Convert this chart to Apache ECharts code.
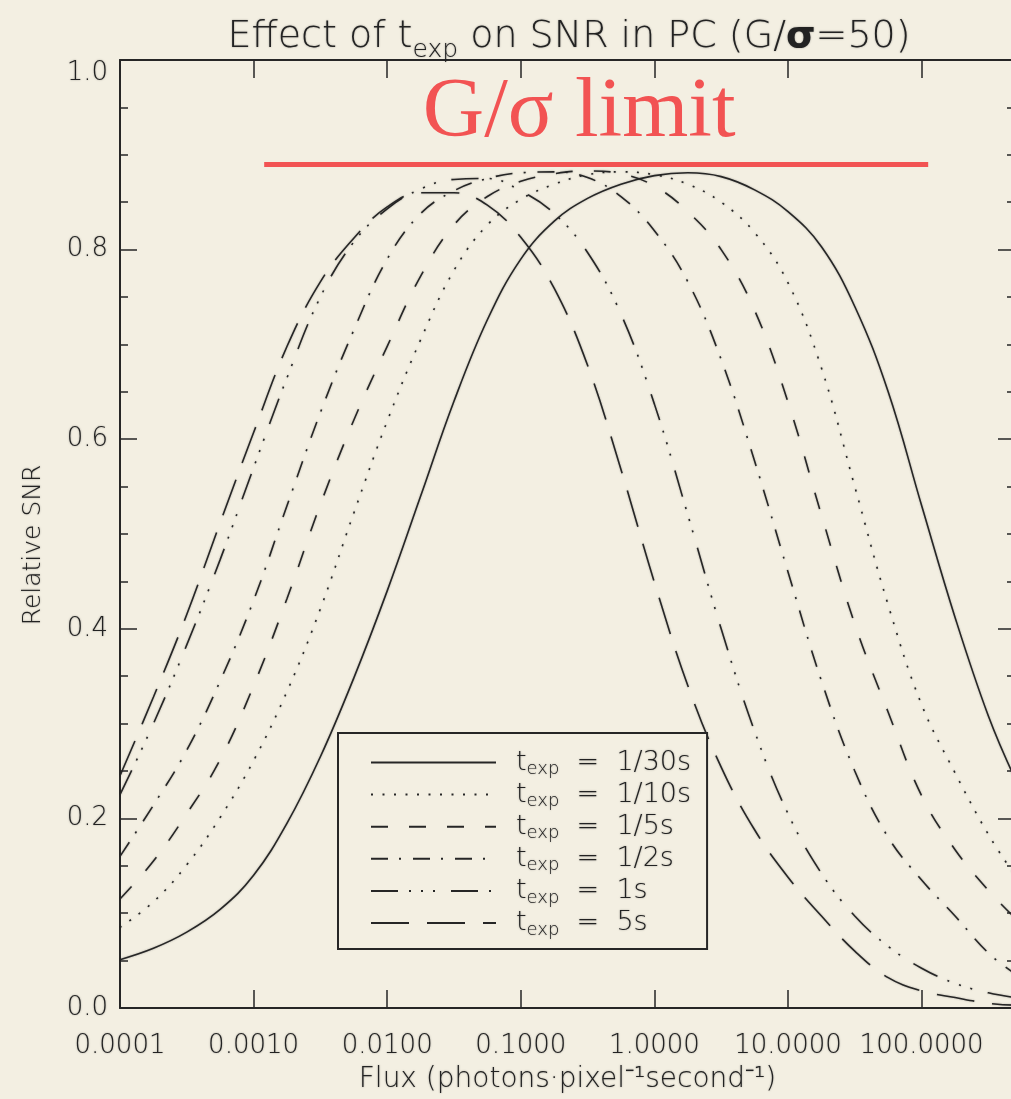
<!DOCTYPE html>
<html>
<head>
<meta charset="utf-8">
<title>Effect of t_exp on SNR in PC</title>
<script src="https://cdn.jsdelivr.net/npm/echarts@6/dist/echarts.min.js"></script>
<style>
  html, body { margin: 0; padding: 0; background: #f3efe2; overflow: hidden; }
  /* the plot frame runs a few pixels past the right edge of the page */
  #chart { width: 1020px; height: 1099px; }
</style>
</head>
<body>
<div id="chart"></div>
<script>
// Exposure times, one curve each
const expTimes = ['1/30s', '1/10s', '1/5s', '1/2s', '1s', '5s'];

// Flux samples (photons / pixel / second), quarter-decade steps up to the axis end
const flux = [1.00e-4, 1.78e-4, 3.16e-4, 5.62e-4, 1.00e-3, 1.78e-3, 3.16e-3, 5.62e-3, 0.0100, 0.0178, 0.0316, 0.0562,
              0.100, 0.178, 0.316, 0.562, 1.00, 1.78, 3.16, 5.62, 10.0, 17.8, 31.6, 56.2, 100, 178, 316, 500];

// Relative SNR at those fluxes, one list per exposure time
const snr30 = [0.051, 0.063, 0.080, 0.104, 0.140, 0.195, 0.265, 0.348, 0.440, 0.540, 0.640, 0.726, 0.790, 0.830,
               0.854, 0.869, 0.878, 0.881, 0.877, 0.863, 0.840, 0.803, 0.740, 0.650, 0.530, 0.412, 0.308, 0.242];
const snr10 = [0.085, 0.112, 0.151, 0.201, 0.261, 0.334, 0.421, 0.522, 0.619, 0.705, 0.778, 0.826, 0.853, 0.869,
               0.879, 0.882, 0.879, 0.869, 0.850, 0.818, 0.765, 0.675, 0.550, 0.425, 0.320, 0.248, 0.183, 0.140];
const snr5  = [0.115, 0.155, 0.205, 0.262, 0.340, 0.432, 0.531, 0.620, 0.698, 0.772, 0.826, 0.856, 0.872, 0.880,
               0.883, 0.880, 0.867, 0.840, 0.800, 0.736, 0.639, 0.520, 0.405, 0.312, 0.224, 0.167, 0.124, 0.095];
const snr2  = [0.160, 0.214, 0.272, 0.345, 0.430, 0.530, 0.628, 0.715, 0.790, 0.838, 0.862, 0.875, 0.881, 0.882,
               0.876, 0.856, 0.820, 0.766, 0.684, 0.577, 0.460, 0.345, 0.250, 0.180, 0.135, 0.097, 0.058, 0.036];
const snr1  = [0.225, 0.300, 0.383, 0.473, 0.570, 0.665, 0.750, 0.808, 0.843, 0.864, 0.874, 0.875, 0.862, 0.838,
               0.797, 0.732, 0.637, 0.520, 0.400, 0.292, 0.205, 0.142, 0.097, 0.065, 0.042, 0.026, 0.016, 0.011];
const snr5s = [0.245, 0.328, 0.415, 0.512, 0.607, 0.698, 0.766, 0.812, 0.845, 0.860, 0.860, 0.847, 0.813, 0.759,
               0.678, 0.568, 0.449, 0.340, 0.254, 0.188, 0.138, 0.097, 0.060, 0.032, 0.018, 0.011, 0.005, 0.003];

// Axis ranges and tick labels
const fluxMin = 1e-4, fluxMax = 500;
const xTickLabels = ['0.0001', '0.0010', '0.0100', '0.1000', '1.0000', '10.0000', '100.0000'];

// G/sigma ceiling and the flux span it is drawn across
const limitSnr = 0.89;
const limitFluxFrom = 0.0012, limitFluxTo = 112;

const snrSets = [snr30, snr10, snr5, snr2, snr1, snr5s];
// IDL style line patterns: solid, dotted, dashed, dash-dot, dash-dot-dot-dot, long dashes
const dashes = ['solid', [2, 9.5], [17, 21], [17, 11, 2, 12], [27, 11, 2, 10, 2, 10, 2, 16], [38, 18]];

const bg = '#f3efe2';
const ink = '#262626';
const textInk = '#222222';
const red = '#f25353';
const sans = 'DejaVu Sans';
// soft halo that the printed figure has around its strokes and letters
const halo = { textShadowColor: 'rgba(0,0,0,0.35)', textShadowBlur: 2 };

const series = expTimes.map((name, i) => ({
  name: name,
  type: 'line',
  xAxisIndex: 0,
  yAxisIndex: 0,
  data: flux.map((f, j) => [f, snrSets[i][j]]),
  showSymbol: false,
  symbol: 'none',
  smooth: 0.4,
  clip: true,
  lineStyle: { color: ink, width: 1.6, type: dashes[i], cap: 'butt', shadowColor: 'rgba(0,0,0,0.3)', shadowBlur: 2 },
  emphasis: { disabled: true },
  z: 3
}));

series[0].markLine = {
  silent: true,
  symbol: ['none', 'none'],
  animation: false,
  lineStyle: { color: red, width: 5, type: 'solid', opacity: 1 },
  label: {
    show: true,
    position: 'insideMiddleTop',
    formatter: 'G/σ limit',
    fontFamily: 'Liberation Serif',
    fontSize: 85,
    color: red,
    distance: 8,
    padding: [0, 34, 0, 0]
  },
  data: [[{ coord: [limitFluxFrom, limitSnr] }, { coord: [limitFluxTo, limitSnr] }]]
};

const axisLine = { show: true, onZero: false, lineStyle: { color: ink, width: 2 } };
const tickLine = { color: ink, width: 1.5 };

function xLabel(v) {
  const lg = Math.log10(v);
  const e = Math.round(lg);
  if (Math.abs(lg - e) > 1e-6) return '';
  return xTickLabels[e + 4] || '';
}

function txt(size, extra) {
  return Object.assign({ fontFamily: sans, fontSize: size, fontWeight: 300, color: textInk }, halo, extra || {});
}

const chart = echarts.init(document.getElementById('chart'), null, { renderer: 'canvas' });
chart.setOption({
  animation: false,
  backgroundColor: bg,
  title: {
    text: 'Effect of t{sub|exp} on SNR in PC (G/{b|σ}=50)',
    left: 564,
    textAlign: 'center',
    top: 13,
    textStyle: txt(38, {
      lineHeight: 38,
      rich: {
        sub: txt(25, { padding: [26, 0, 0, 0] }),
        b: txt(38, { fontWeight: 'bold' })
      }
    })
  },
  grid: { left: 120, top: 60, width: 895, height: 955, containLabel: false },
  legend: {
    orient: 'vertical',
    left: 338,
    top: 733,
    padding: [16, 16, 10, 32],
    itemWidth: 125,
    itemHeight: 14,
    itemGap: 2.6,
    itemStyle: { opacity: 0 },
    borderColor: ink,
    borderWidth: 2,
    backgroundColor: bg,
    selectedMode: false,
    data: expTimes,
    formatter: name => 't{sub|exp}  =  ' + name,
    textStyle: txt(27, {
      lineHeight: 27, padding: [0, 0, 0, 15],
      rich: {
        sub: txt(18, { padding: [14, 0, 0, 0] })
      }
    })
  },
  xAxis: [
    {
      type: 'log', logBase: 10, min: fluxMin, max: fluxMax, position: 'bottom',
      name: 'Flux (photons·pixel⁻¹second⁻¹)',
      nameLocation: 'middle', nameGap: 58,
      nameTextStyle: txt(28),
      axisLine: axisLine,
      axisTick: { show: true, inside: true, length: 18, lineStyle: tickLine },
      minorTick: { show: false },
      splitLine: { show: false },
      axisLabel: Object.assign(txt(26), { formatter: xLabel, margin: 25 })
    },
    {
      type: 'log', logBase: 10, min: fluxMin, max: fluxMax, position: 'top',
      axisLine: axisLine,
      axisTick: { show: true, inside: true, length: 18, lineStyle: tickLine },
      splitLine: { show: false },
      axisLabel: { show: false }
    }
  ],
  yAxis: [
    {
      type: 'value', min: 0, max: 1, interval: 0.2, position: 'left',
      name: 'Relative SNR', nameLocation: 'middle', nameGap: 74, nameRotate: 90,
      nameTextStyle: txt(25, { padding: [0, 22, 0, 0] }),
      axisLine: axisLine,
      axisTick: { show: true, inside: true, length: 17, lineStyle: tickLine },
      minorTick: { show: true, splitNumber: 4, length: 8, lineStyle: tickLine },
      splitLine: { show: false },
      axisLabel: Object.assign(txt(26), {
        formatter: v => v.toFixed(1), margin: 12, verticalAlignMaxLabel: 'top'
      })
    },
    {
      type: 'value', min: 0, max: 1, interval: 0.2, position: 'right',
      axisLine: axisLine,
      axisTick: { show: true, inside: true, length: 17, lineStyle: tickLine },
      minorTick: { show: true, splitNumber: 4, length: 8, lineStyle: tickLine },
      splitLine: { show: false },
      axisLabel: { show: false }
    }
  ],
  series: series
});
</script>
</body>
</html>
